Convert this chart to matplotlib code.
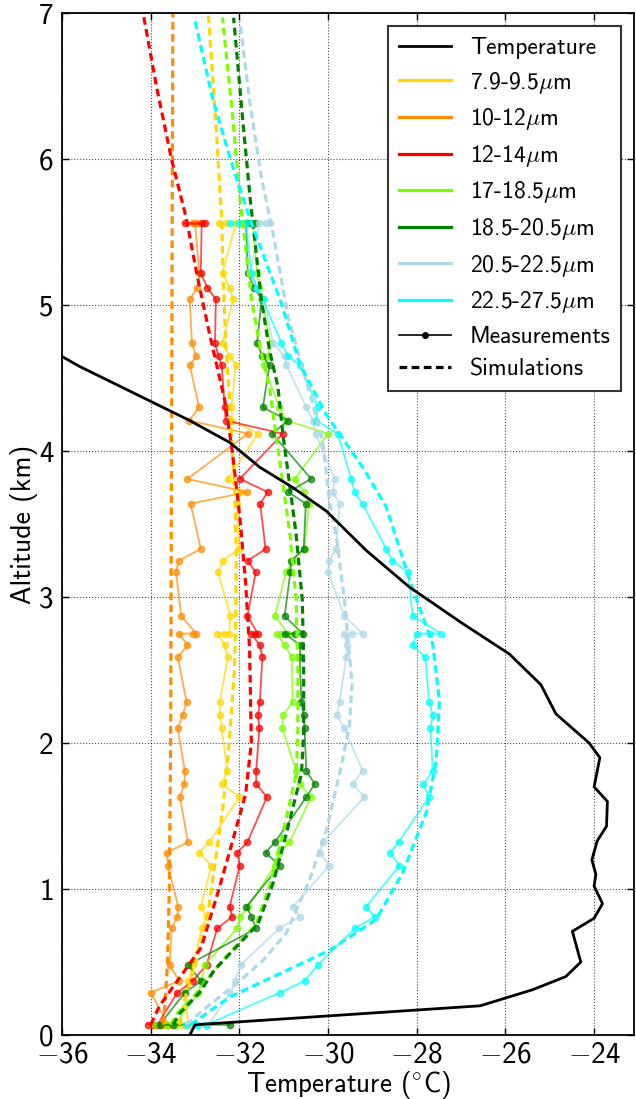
import matplotlib
matplotlib.use("Agg")
import matplotlib.pyplot as plt
from matplotlib.lines import Line2D
from matplotlib.ticker import FuncFormatter

plt.rcParams['font.family'] = ['cmss10', 'DejaVu Sans']
plt.rcParams['mathtext.fontset'] = 'cm'
plt.rcParams['axes.unicode_minus'] = True

# ---------------- data ----------------
# Measurement altitudes (km), shared by all bands; repeated values are hover levels
Z_MEAS = [0.07, 0.07, 0.07, 0.29, 0.37, 0.48, 0.73, 0.81, 0.88,
          1.16, 1.25, 1.32, 1.63, 1.72, 1.81, 2.10, 2.19, 2.28,
          2.59, 2.67, 2.75, 2.75, 2.75, 2.87, 3.17, 3.25, 3.33,
          3.64, 3.72, 3.81, 4.12, 4.21, 4.30, 4.59, 4.65, 4.74,
          5.04, 5.12, 5.22, 5.56, 5.56, 5.56]

MEAS_79_95 = [-33.45, -33.3, -33.15, -33.25, -33.15, -33.04, -32.85, -32.74, -32.87,
              -32.63, -32.91, -32.68, -32.0, -32.4, -32.27, -32.4, -32.44, -32.44,
              -32.26, -32.32, -32.5, -32.35, -32.23, -32.2, -32.48, -32.37, -32.01,
              -32.05, -31.96, -32.26, -31.58, -32.16, -32.18, -32.08, -32.22, -32.38,
              -32.14, -32.22, -32.38, -32.08, -32.45, -32.3]
MEAS_10_12 = [-33.9, -33.75, -33.6, -34.0, -33.36, -33.57, -33.53, -33.40, -33.38,
              -33.61, -33.64, -33.16, -33.34, -33.24, -33.23, -33.39, -33.28, -33.19,
              -33.39, -33.17, -33.36, -33.05, -32.97, -33.31, -33.43, -33.37, -32.87,
              -33.10, -31.82, -33.17, -31.81, -33.13, -32.91, -33.12, -32.97, -33.07,
              -33.12, -32.95, -32.90, -33.0, -32.95, -33.05]
MEAS_12_14 = [-34.06, -33.95, -33.85, -33.4, -33.05, -32.74, -32.50, -32.16, -32.22,
              -31.99, -32.05, -31.82, -31.38, -31.62, -31.62, -31.55, -31.58, -31.54,
              -31.48, -31.54, -31.73, -31.65, -31.58, -31.82, -31.63, -31.81, -31.41,
              -31.53, -31.36, -31.99, -31.02, -32.31, -32.33, -32.40, -32.47, -32.55,
              -32.53, -32.72, -32.87, -32.85, -33.23, -32.78]
MEAS_17_185 = [-33.9, -33.65, -33.45, -32.93, -32.85, -32.78, -32.05, -31.99, -31.8,
               -31.2, -31.1, -30.87, -30.38, -30.64, -30.72, -31.03, -31.02, -30.8,
               -30.82, -30.98, -31.15, -31.05, -30.9, -31.2, -30.95, -30.8, -30.53,
               -30.43, -30.55, -30.75, -30.0, -30.94, -31.1, -31.45, -31.35, -31.3,
               -31.5, -31.55, -31.6, -31.7, -31.95, -31.85]
MEAS_185_205 = [-32.2, -33.5, -33.8, -33.23, -32.86, -33.16, -31.62, -31.73, -31.84,
                -31.09, -31.41, -31.2, -30.49, -30.3, -30.49, -30.53, -30.55, -30.6,
                -30.64, -30.62, -30.98, -30.75, -30.57, -30.98, -30.85, -30.83, -30.55,
                -30.5, -30.9, -30.38, -31.26, -30.9, -31.47, -31.32, -31.48, -31.6,
                -31.5, -31.66, -31.81, -31.85, -31.75, -31.65]
MEAS_205_225 = [-33.1, -32.9, -32.7, -32.2, -32.1, -31.97, -31.1, -30.64, -30.79,
                -29.97, -30.19, -30.12, -29.18, -29.44, -29.22, -29.63, -29.8, -29.74,
                -29.59, -29.58, -29.63, -29.45, -29.22, -29.63, -30.0, -29.97, -29.82,
                -29.74, -29.89, -29.85, -30.28, -30.34, -30.49, -30.94, -30.98, -31.24,
                -31.45, -31.6, -31.75, -31.55, -31.4, -31.3]
MEAS_225_275 = [-33.2, -32.95, -32.75, -31.09, -30.53, -30.23, -29.4, -28.95, -29.14,
                -28.39, -28.6, -28.41, -27.73, -27.85, -27.64, -27.69, -27.64, -27.72,
                -27.81, -28.09, -28.0, -27.7, -27.45, -28.09, -28.2, -28.55, -28.69,
                -29.22, -29.4, -29.48, -29.78, -30.27, -30.23, -30.64, -30.9, -31.05,
                -31.47, -31.6, -31.73, -31.85, -32.0, -32.2]

# Simulated profiles (altitude km, temperature degC)
SIM_Z_79_95 = [0.07, 0.29, 0.47, 0.83, 1.15, 1.56, 2.0, 2.5, 2.9, 3.3, 3.7, 4.0, 4.35, 4.75, 5.25, 5.6, 6.2, 7.0]
SIM_T_79_95 = [-33.35, -33.19, -33.0, -32.71, -32.56, -32.37, -32.23, -32.11, -32.08, -32.07,
               -32.1, -32.16, -32.22, -32.31, -32.37, -32.4, -32.52, -32.7]
SIM_Z_10_12 = [0.07, 0.2, 0.5, 1.0, 2.0, 3.0, 4.0, 5.0, 6.0, 7.0]
SIM_T_10_12 = [-33.72, -33.68, -33.62, -33.58, -33.55, -33.54, -33.53, -33.52, -33.51, -33.5]
SIM_Z_12_14 = [0.07, 0.2, 0.6, 1.0, 1.3, 1.65, 2.0, 2.65, 3.1, 3.55, 4.0, 4.35, 4.8, 5.2, 5.6, 6.0, 6.5, 7.0]
SIM_T_12_14 = [-34.0, -33.8, -32.86, -32.46, -32.18, -31.86, -31.73, -31.77, -31.86, -31.99,
               -32.16, -32.33, -32.67, -32.95, -33.2, -33.53, -33.87, -34.17]
SIM_Z_GREEN = [0.07, 0.15, 0.29, 0.45, 0.76, 1.04, 1.38, 1.61, 1.79, 2.06, 2.52, 2.98, 3.43,
               3.78, 4.12, 4.44, 4.69, 5.03, 5.71, 6.29, 6.97]
SIM_T_17_185 = [-33.55, -33.4, -32.95, -32.55, -31.62, -31.3, -31.02, -30.85, -30.72, -30.68,
                -30.68, -30.72, -30.86, -31.02, -31.18, -31.32, -31.52, -31.72, -31.98, -32.15, -32.38]
SIM_T_185_205 = [-33.5, -33.34, -32.9, -32.55, -31.58, -31.24, -30.94, -30.75, -30.6, -30.55,
                 -30.55, -30.58, -30.72, -30.87, -31.02, -31.13, -31.32, -31.5, -31.75, -31.93, -32.13]
SIM_Z_205_225 = [0.07, 0.2, 0.35, 0.51, 0.7, 1.06, 1.4, 1.79, 2.11, 2.41, 2.98, 3.43, 3.66,
                 4.07, 4.48, 4.92, 5.49, 5.87, 6.4, 6.95]
SIM_T_205_225 = [-33.2, -32.7, -32.07, -31.47, -30.94, -30.42, -30.04, -29.74, -29.52, -29.46,
                 -29.63, -29.82, -29.97, -30.12, -30.49, -30.9, -31.24, -31.5, -31.77, -31.99]
SIM_Z_225_275 = [0.07, 0.26, 0.42, 0.58, 0.79, 1.11, 1.52, 1.88, 2.29, 2.68, 3.09, 3.62,
                 3.89, 4.25, 4.6, 5.01, 5.6, 5.94, 6.4, 6.95]
SIM_T_225_275 = [-33.1, -32.22, -31.09, -29.97, -28.92, -28.32, -27.79, -27.56, -27.49, -27.64,
                 -28.13, -28.69, -29.22, -30.04, -30.64, -31.05, -31.77, -32.14, -32.59, -33.0]

# Air temperature profile
TEMP_Z = [-0.05, 0.07, 0.20, 0.24, 0.31, 0.40, 0.50, 0.71, 0.80, 0.90, 1.02, 1.10, 1.20, 1.33,
          1.43, 1.60, 1.70, 1.90, 2.0, 2.20, 2.40, 2.61, 2.82, 3.07, 3.32, 3.50, 3.59, 3.75,
          3.89, 4.06, 4.21, 4.31, 4.58, 4.70]
TEMP_T = [-33.2, -33.0, -26.57, -26.14, -25.39, -24.64, -24.3, -24.49, -24.0, -23.81, -24.0,
          -23.96, -24.05, -23.93, -23.72, -23.7, -24.0, -23.87, -24.11, -24.86, -25.2, -25.91,
          -26.97, -28.17, -29.14, -29.74, -30.04, -30.79, -31.54, -32.22, -33.12, -33.79,
          -35.6, -36.3]

BANDS = ['7.9-9.5$\\mu$m', '10-12$\\mu$m', '12-14$\\mu$m', '17-18.5$\\mu$m',
         '18.5-20.5$\\mu$m', '20.5-22.5$\\mu$m', '22.5-27.5$\\mu$m']
COLORS = ['gold', 'darkorange', 'red', 'lawngreen', 'green', 'lightblue', 'cyan']
MEAS = [MEAS_79_95, MEAS_10_12, MEAS_12_14, MEAS_17_185, MEAS_185_205, MEAS_205_225, MEAS_225_275]
SIMS = [(SIM_Z_79_95, SIM_T_79_95), (SIM_Z_10_12, SIM_T_10_12), (SIM_Z_12_14, SIM_T_12_14),
        (SIM_Z_GREEN, SIM_T_17_185), (SIM_Z_GREEN, SIM_T_185_205),
        (SIM_Z_205_225, SIM_T_205_225), (SIM_Z_225_275, SIM_T_225_275)]

XTICKS = [-36, -34, -32, -30, -28, -26, -24]
YTICKS = [0, 1, 2, 3, 4, 5, 6, 7]

# ---------------- figure ----------------
W, H = 636, 1099
fig = plt.figure(figsize=(W / 100, H / 100), dpi=100)
ax = fig.add_axes([62 / W, (H - 1035) / H, (634 - 62) / W, (1035 - 13.3) / H])

DASH = (2.4, 1.4)
for col, meas, (sz, st) in zip(COLORS, MEAS, SIMS):
    ax.plot(meas, Z_MEAS, '-', color=col, lw=1.3, alpha=0.7,
            marker='o', ms=4.5, mec=col, zorder=2)
    ax.plot(st, sz, color=col, lw=2.3, dashes=DASH, zorder=2.5)

ax.plot(TEMP_T, TEMP_Z, color='black', lw=2.0, zorder=3)

ax.set_xlim(-36, -23.1)
ax.set_ylim(0, 7)
ax.set_xticks(XTICKS)
ax.set_yticks(YTICKS)


def sans_label(v, pos):
    n = int(round(v))
    # math-mode minus sign followed by sans-serif digits
    return ('$-$%d' % -n) if n < 0 else '%d' % n


ax.xaxis.set_major_formatter(FuncFormatter(sans_label))
ax.yaxis.set_major_formatter(FuncFormatter(sans_label))
ax.grid(True, color='black', linestyle=':', linewidth=0.8, alpha=0.7)
ax.tick_params(direction='in', top=True, right=True, length=5, width=1,
               labelsize=21, pad=6)
ax.tick_params(axis='x', pad=5)
for sp in ax.spines.values():
    sp.set_linewidth(1.3)

ax.set_xlabel('Temperature ($^{\\circ}$C)', fontsize=19.5, labelpad=0)
ax.set_ylabel('Altitude (km)', fontsize=20, labelpad=1)

handles = [Line2D([], [], color='black', lw=2.0, label='Temperature')]
for col, lab in zip(COLORS, BANDS):
    handles.append(Line2D([], [], color=col, lw=2.3, label=lab))
handles.append(Line2D([], [], color='black', lw=1.2, marker='o', ms=4,
                      markevery=[1], label='Measurements'))
handles.append(Line2D([], [], color='black', lw=2.3, dashes=DASH, label='Simulations'))

leg = ax.legend(handles=handles, loc='upper right', fontsize=17, fancybox=False,
                framealpha=1, edgecolor='#333333', handlelength=2.2,
                handletextpad=0.8, labelspacing=0.45, borderpad=0.45,
                borderaxespad=0.55)
leg.get_frame().set_linewidth(1.5)
leg.set_zorder(5)

fig.savefig('out.png', dpi=100, facecolor='white')
